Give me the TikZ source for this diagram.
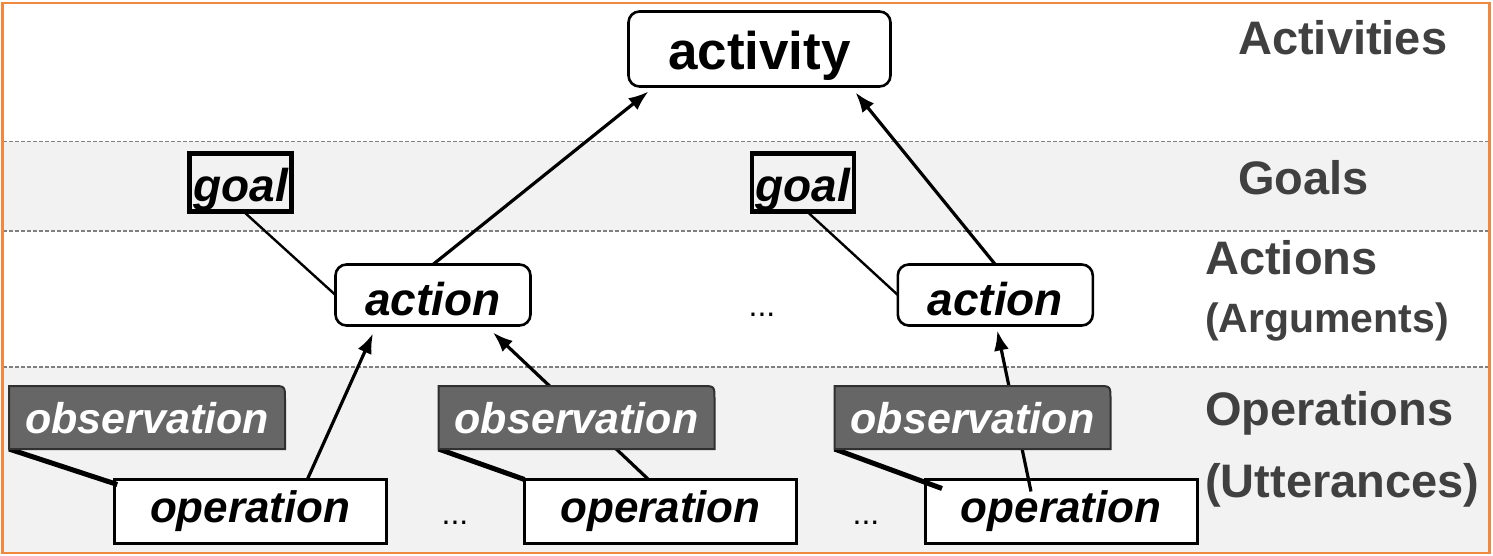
\documentclass[tikz,border=0pt]{standalone}
\usepackage{fontspec}
\setmainfont{Liberation Sans}
\usetikzlibrary{arrows.meta,calc}
\definecolor{band}{HTML}{F2F2F2}
\definecolor{lbl}{HTML}{404040}
\definecolor{obsfill}{HTML}{666666}
\definecolor{obsedge}{HTML}{303030}
\definecolor{frameorange}{HTML}{F0883E}
\definecolor{dashgray}{HTML}{7F7F7F}
\pgfdeclarelayer{background}
\pgfdeclarelayer{obsbg}
\pgfdeclarelayer{foreground}
\pgfsetlayers{background,main,obsbg,foreground}
\newcommand{\obsframe}[1]{\fill[obsfill,draw=obsedge,line width=2pt] (#1.south west) -- (#1.north west) -- ($(#1.north east)+(-13,0)$) .. controls (#1.north east) .. ($(#1.north east)+(0,13)$) -- (#1.south east) -- cycle;}
\begin{document}
\begin{tikzpicture}[x=1pt,y=-1pt,
  actbox/.style={draw,rounded corners=11pt,line width=2.6pt,fill=white,inner sep=0pt,outer sep=0pt,
    minimum width=262pt,minimum height=75pt,font=\fontsize{53}{53}\selectfont\bfseries,text height=42pt,text depth=0pt},
  actionbox/.style={draw,rounded corners=11pt,line width=2.6pt,fill=white,inner sep=0pt,outer sep=0pt,
    minimum width=195pt,minimum height=61pt,font=\fontsize{46}{46}\selectfont\bfseries\itshape,text height=40pt,text depth=0pt},
  goalbox/.style={draw,line width=4.5pt,inner sep=0pt,outer sep=0pt,
    minimum width=102pt,minimum height=58pt,font=\fontsize{46}{46}\selectfont\bfseries\itshape,text height=38pt,text depth=0pt},
  obsbox/.style={inner sep=0pt,outer sep=0pt,text=white,
    minimum width=276pt,minimum height=63pt,font=\fontsize{43}{43}\selectfont\bfseries\itshape,text height=31pt,text depth=0pt},
  opbox/.style={draw,line width=3pt,fill=white,inner sep=0pt,outer sep=0pt,
    minimum width=272pt,minimum height=64pt,font=\fontsize{44}{44}\selectfont\bfseries\itshape,text height=21pt,text depth=0pt},
  lab/.style={anchor=base west,inner sep=0pt,text=lbl,font=\fontsize{47}{47}\selectfont\bfseries},
  dotsnode/.style={anchor=base,inner sep=0pt,font=\fontsize{32}{32}\selectfont},
  arr/.style={line width=3.2pt,-{Latex[length=20pt,width=15pt]}},
  thin/.style={line width=2.4pt},
  callout/.style={line width=5pt}
]
\useasboundingbox (0,0) rectangle (1493,556);
% backgrounds
\begin{pgfonlayer}{background}
  \fill[white] (0,0) rectangle (1493,556);
  \fill[band] (3,141.7) rectangle (1489,231);
  \fill[band] (3,367) rectangle (1489,553);
  \foreach \yy in {141.7,231,367}
    \draw[dashgray,line width=1.3pt,dash pattern=on 4pt off 2pt] (3,\yy) -- (1489,\yy);
  \draw[frameorange,line width=2.2pt] (2.5,3) rectangle (1489.5,553);
\end{pgfonlayer}
% observation nodes (top layer)
\begin{pgfonlayer}{foreground}
  \node[obsbox] (o1) at (147,417.5) {observation};
  \node[obsbox] (o2) at (576.5,417.5) {observation};
  \node[obsbox] (o3) at (972.5,417.5) {observation};
\end{pgfonlayer}
\begin{pgfonlayer}{obsbg}
  \obsframe{o1}
  \obsframe{o2}
  \obsframe{o3}
\end{pgfonlayer}
% main nodes
\node[actbox] (act) at (759.5,49) {activity};
\node[goalbox] (g1) at (240.5,182.5) {goal};
\node[goalbox] (g2) at (803,182.5) {goal};
\node[actionbox] (a1) at (433,295) {action};
\node[actionbox] (a2) at (995.3,295) {action};
\node[opbox] (p1) at (250.3,511.5) {operation};
\node[opbox] (p2) at (660.5,511.5) {operation};
\node[opbox] (p3) at (1061,511.5) {operation};
\node[dotsnode] (d1) at (762,316) {...};
\node[dotsnode] (d2) at (455,524) {...};
\node[dotsnode] (d3) at (866,524) {...};
% labels
\node[lab] (l1) at (1238,55) {Activities};
\node[lab] (l2) at (1238,195) {Goals};
\node[lab] (l3) at (1205,274) {Actions};
\node[lab,font=\fontsize{41}{41}\selectfont\bfseries] (l4) at (1205,332) {(Arguments)};
\node[lab] (l5) at (1205,425) {Operations};
\node[lab] (l6) at (1205,497) {(Utterances)};
% connectors
\draw[thin] ($(g1.south)+(3,0)$) -- (a1.west);
\draw[thin] ($(g2.south)+(4,0)$) -- (a2.west);
\draw[arr] (a1.north) -- ($(act.south west)+(20,5)$);
\draw[arr] (a2.north) -- ($(act.south east)+(-35,6)$);
\draw[arr] ($(p1.north)+(57,0)$) -- ($(a1.south)+(-60,8)$);
\draw[arr] ($(p2.north)+(-12,0)$) -- ($(a1.south)+(60,7)$);
\draw[arr] ($(p3.center)+(-30,-20)$) -- ($(a2.south)+(2,5)$);
\draw[callout] (o1.south west) -- ($(p1.north west)+(3,5)$);
\draw[callout] (o2.south west) -- (p2.north west);
\draw[callout] (o3.south west) -- ($(p3.north west)+(17,9)$);
\end{tikzpicture}
\end{document}
